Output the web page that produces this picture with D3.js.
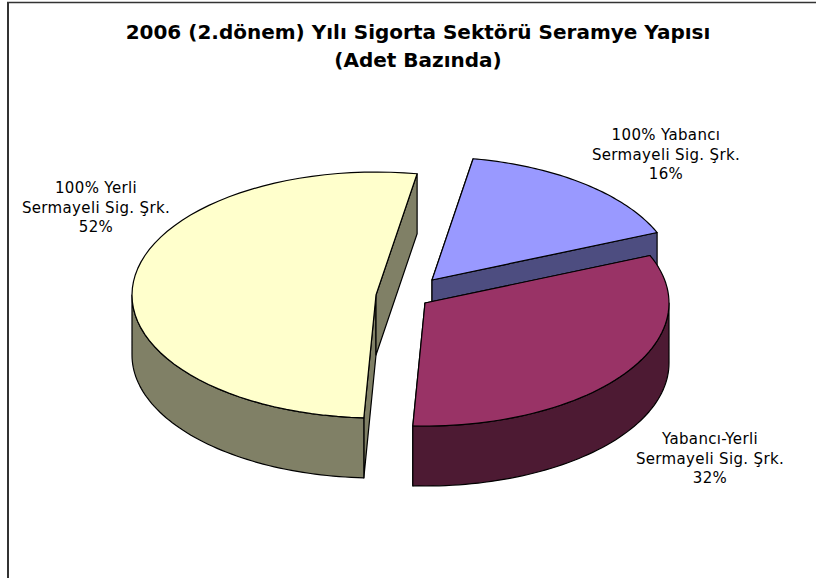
<!DOCTYPE html>
<html><head><meta charset="utf-8">
<script src="https://cdn.jsdelivr.net/npm/d3@7"></script>
<style>html,body{margin:0;padding:0;background:#fff}svg{display:block}</style>
</head><body><svg id="c" width="816" height="578"></svg>
<script>
const categories = [["100% Yabancı","Sermayeli Sig. Şrk."],["Yabancı-Yerli","Sermayeli Sig. Şrk."],["100% Yerli","Sermayeli Sig. Şrk."]];
const values = [16, 32.1, 51.9];
const titleLines = ["2006 (2.dönem) Yılı Sigorta Sektörü Seramye Yapısı", "(Adet Bazında)"];
const topColors = ["#9999FF","#993366","#FFFFCC"];
const sideColors = ["#4D4D80","#4D1A33","#808066"];

const RX = 244, RY = 123, DEPTH = 60;
const apex = [[432,280],[425,303],[376,295]];
const labelPos = [[666,140],[710,444],[96,193]];

const svg = d3.select("#c");
svg.append("path").attr("d","M8,578V2.5").attr("fill","none").attr("stroke","#333").attr("stroke-width",2);
svg.append("path").attr("d","M7,2.5H816").attr("fill","none").attr("stroke","#333").attr("stroke-width",1.4);

const title = svg.append("text").attr("text-anchor","middle").attr("font-family","DejaVu Sans, Verdana")
  .attr("font-weight","bold").attr("font-size",20).attr("fill","#000");
titleLines.forEach((t,i)=>title.append("tspan").attr("x",418).attr("y",39+i*28).text(t));

const pie = d3.pie().sort(null).startAngle(9.7*Math.PI/180).endAngle(9.7*Math.PI/180+2*Math.PI);
const arcs = pie(values);
const total = d3.sum(values);
const pt = (i,a,z=0)=>[apex[i][0]+RX*Math.sin(a), apex[i][1]-RY*Math.cos(a)+z];
const line = d3.line();
const sample = (i,a0,a1,z)=>d3.range(0,61).map(k=>pt(i,a0+(a1-a0)*k/60,z));
const face = (d,fill)=>svg.append("path").attr("d",d).attr("fill",fill)
  .attr("stroke","#000").attr("stroke-width",1.2).attr("stroke-linejoin","round");
const poly = pts=>line(pts)+"Z";

arcs.forEach((d,i)=>{
  const [ax,ay]=apex[i], a0=d.startAngle, a1=d.endAngle, side=sideColors[i];
  [a0,a1].forEach(a=>{
    const e=pt(i,a);
    face(poly([[ax,ay],e,[e[0],e[1]+DEPTH],[ax,ay+DEPTH]]),side);
  });
  const lo=Math.max(a0,Math.PI/2), hi=Math.min(a1,3*Math.PI/2);
  if(hi>lo){
    const top=sample(i,lo,hi,0), bot=sample(i,lo,hi,DEPTH).reverse();
    face(poly(top.concat(bot)),side);
  }
  face(poly([[ax,ay]].concat(sample(i,a0,a1,0))),topColors[i]);
});

categories.forEach((ls,i)=>{
  const t=svg.append("text").attr("text-anchor","middle").attr("font-family","DejaVu Sans, Verdana")
    .attr("font-size",15).attr("letter-spacing",0.35).attr("fill","#000");
  ls.concat(d3.format(".0f")(values[i]/total*100)+"%").forEach((s,j)=>
    t.append("tspan").attr("x",labelPos[i][0]).attr("y",labelPos[i][1]+j*19.5).text(s));
});
</script></body></html>
